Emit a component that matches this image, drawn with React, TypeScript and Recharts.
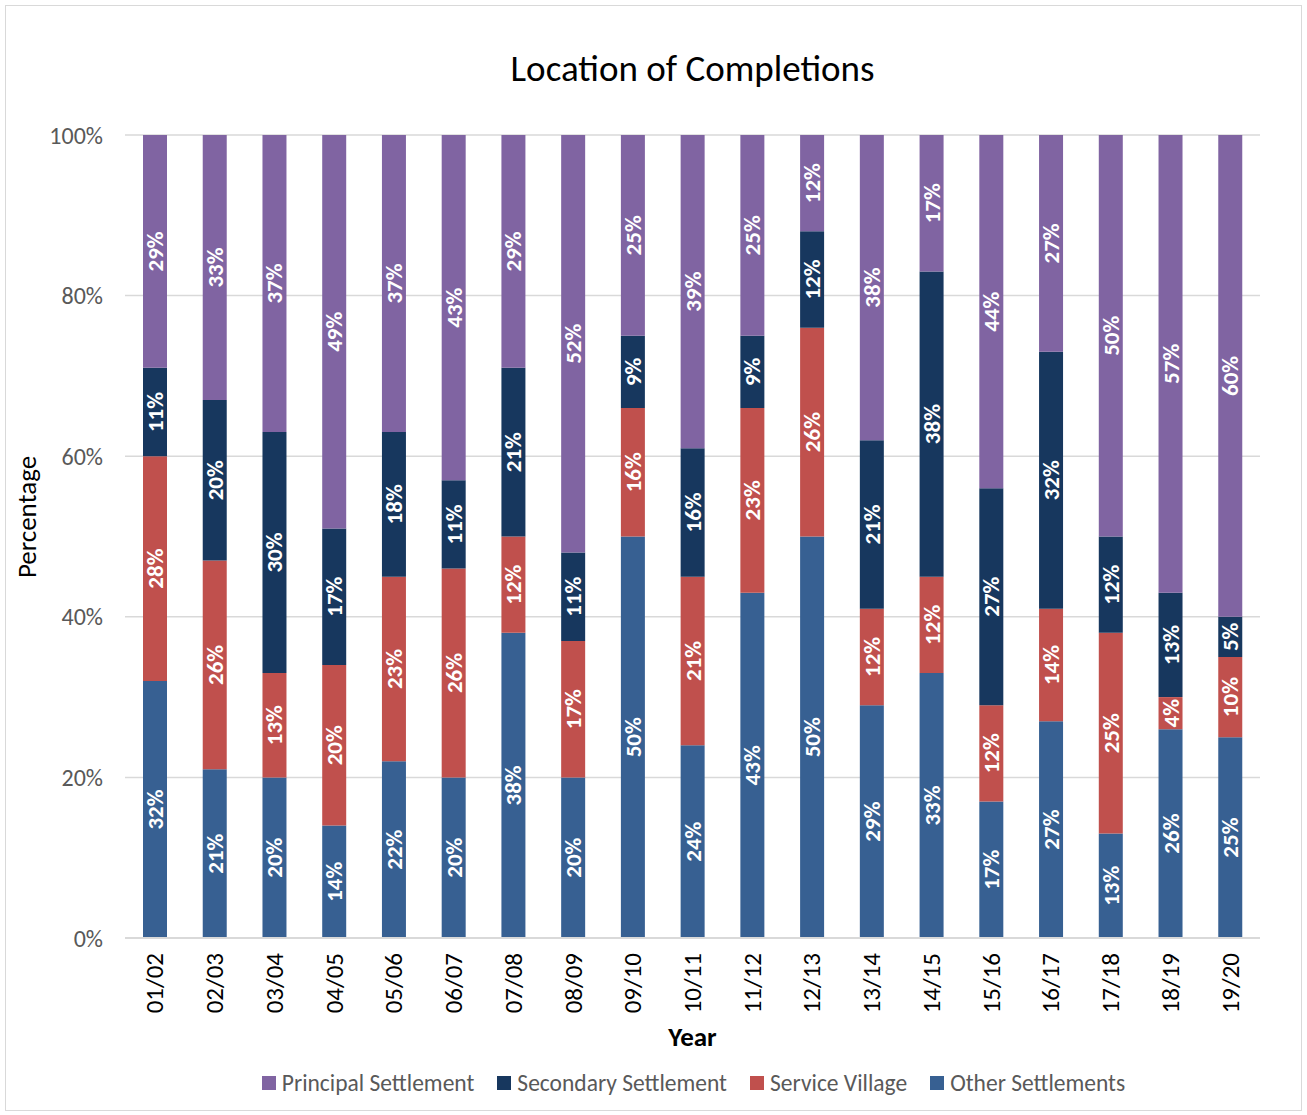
import { BarChart, Bar, XAxis, YAxis, CartesianGrid, LabelList } from "recharts";

const years = [
  "01/02", "02/03", "03/04", "04/05", "05/06", "06/07", "07/08", "08/09", "09/10", "10/11",
  "11/12", "12/13", "13/14", "14/15", "15/16", "16/17", "17/18", "18/19", "19/20",
];
const other = [32, 21, 20, 14, 22, 20, 38, 20, 50, 24, 43, 50, 29, 33, 17, 27, 13, 26, 25];
const service = [28, 26, 13, 20, 23, 26, 12, 17, 16, 21, 23, 26, 12, 12, 12, 14, 25, 4, 10];
const secondary = [11, 20, 30, 17, 18, 11, 21, 11, 9, 16, 9, 12, 21, 38, 27, 32, 12, 13, 5];
const principal = [29, 33, 37, 49, 37, 43, 29, 52, 25, 39, 25, 12, 38, 17, 44, 27, 50, 57, 60];
const yTicks = [0, 20, 40, 60, 80, 100];

// stack order bottom -> top
const series = [
  { key: "other", name: "Other Settlements", color: "#376092" },
  { key: "service", name: "Service Village", color: "#C0504D" },
  { key: "secondary", name: "Secondary Settlement", color: "#17375E" },
  { key: "principal", name: "Principal Settlement", color: "#8064A2" },
];

const data = years.map((y, i) => ({
  year: y,
  other: other[i],
  service: service[i],
  secondary: secondary[i],
  principal: principal[i],
}));

const FONT = "Carlito, Lato, 'Open Sans', sans-serif";

function SegmentLabel(props: any) {
  const { x, y, width, height, value } = props;
  const cx = x + width / 2;
  const cy = y + height / 2;
  return (
    <text
      x={cx}
      y={cy}
      transform={`rotate(-90, ${cx}, ${cy})`}
      textAnchor="middle"
      dominantBaseline="central"
      fill="#fff"
      fontWeight="bold"
      fontSize={23}
      fontFamily={FONT}
    >
      {`${value}%`}
    </text>
  );
}

function YearTick(props: any) {
  const { x, y, payload } = props;
  return (
    <text
      x={x}
      y={y + 7}
      transform={`rotate(-90, ${x}, ${y + 7})`}
      textAnchor="end"
      dominantBaseline="central"
      fill="#000"
      fontSize={25}
      fontFamily={FONT}
    >
      {payload.value}
    </text>
  );
}

export default function App() {
  return (
    <div
      style={{
        position: "absolute",
        left: 5,
        top: 5,
        width: 1295,
        height: 1104,
        border: "1px solid #d9d9d9",
        background: "#fff",
        fontFamily: FONT,
      }}
    >
      <div
        style={{
          position: "absolute",
          top: 40,
          left: 119,
          width: 1135,
          textAlign: "center",
          fontSize: 37,
          color: "#000",
        }}
      >
        Location of Completions
      </div>
      <BarChart
        width={1295}
        height={1104}
        data={data}
        margin={{ top: 129, right: 41, left: 40, bottom: 62 }}
        barSize={24}
      >
        <CartesianGrid vertical={false} stroke="#d9d9d9" strokeWidth={1.5} />
        <XAxis
          dataKey="year"
          tick={<YearTick />}
          tickLine={false}
          axisLine={{ stroke: "#d9d9d9", strokeWidth: 2 }}
          interval={0}
          height={110}
          label={({ viewBox }: any) => (
            <text
              x={viewBox.x + viewBox.width / 2}
              y={1030}
              textAnchor="middle"
              dominantBaseline="central"
              fontWeight="bold"
              fontSize={27}
              fontFamily={FONT}
              fill="#000"
            >
              Year
            </text>
          )}
        />
        <YAxis
          domain={[0, 100]}
          ticks={yTicks}
          tickFormatter={(v: number) => `${v}%`}
          tick={{ fill: "#595959", fontSize: 24, fontFamily: FONT }}
          tickLine={false}
          axisLine={false}
          tickMargin={16}
          width={79}
          label={() => (
            <text
              x={20}
              y={511}
              transform="rotate(-90, 20, 511)"
              textAnchor="middle"
              dominantBaseline="central"
              fontSize={27}
              fontFamily={FONT}
              fill="#000"
            >
              Percentage
            </text>
          )}
        />
        {series.map((s) => (
          <Bar key={s.key} dataKey={s.key} name={s.name} stackId="a" fill={s.color} isAnimationActive={false}>
            <LabelList dataKey={s.key} content={<SegmentLabel />} />
          </Bar>
        ))}
      </BarChart>
      <div
        style={{
          position: "absolute",
          top: 1063,
          left: 0,
          width: "100%",
          display: "flex",
          justifyContent: "center",
          gap: 23,
          fontSize: 23.5,
          color: "#595959",
          paddingLeft: 80,
          boxSizing: "border-box",
        }}
      >
        {[...series].reverse().map((s) => (
          <div key={s.key} style={{ display: "flex", alignItems: "center" }}>
            <span style={{ width: 14, height: 14, background: s.color, marginRight: 6, display: "inline-block" }} />
            {s.name}
          </div>
        ))}
      </div>
    </div>
  );
}
